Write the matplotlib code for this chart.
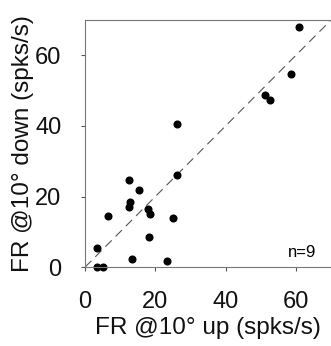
import matplotlib.pyplot as plt

# firing rates (spks/s)
fr_up = [60.9, 58.6, 51.1, 52.6, 26.1, 26.2, 12.4, 15.4, 12.9, 12.6,
         17.9, 18.4, 6.5, 25.0, 18.3, 3.3, 13.5, 23.3, 3.5, 5.0]
fr_down = [68.0, 54.8, 48.9, 47.4, 40.5, 26.0, 24.6, 21.8, 18.5, 17.0,
           16.4, 15.0, 14.4, 13.9, 8.4, 5.4, 2.3, 1.6, 0.0, 0.0]
ticks = [0, 20, 40, 60]

plt.rcParams['font.family'] = ['Liberation Sans', 'DejaVu Sans']

fig = plt.figure(figsize=(3.31, 3.46), dpi=100)
ax = fig.add_axes([0.257, 0.228, 0.743, 0.714])

ax.plot([0, 70], [0, 70], color='#555555', linestyle=(0, (8, 5)), linewidth=0.8)
ax.plot(fr_up, fr_down, 'o', color='black', markersize=4.8, clip_on=False)

ax.set_xlim(0, 70)
ax.set_ylim(0, 70)
ax.set_xticks(ticks)
ax.set_yticks(ticks)
ax.tick_params(direction='out', length=3, width=0.8, colors='#555555',
               labelcolor='#111111', labelsize=17, pad=14)
for side in ['left', 'bottom', 'top']:
    ax.spines[side].set_color('#777777')
    ax.spines[side].set_linewidth(0.8)
ax.spines['right'].set_visible(False)

ax.set_xlabel("FR @10° up (spks/s)", fontsize=17.5, labelpad=3, color='#111111')
ax.set_ylabel("FR @10° down (spks/s)", fontsize=17.5, labelpad=1, color='#111111')
ax.text(0.94, 0.04, "n=9", transform=ax.transAxes, fontsize=12, ha='right')

fig.savefig('out.png', dpi=100)
